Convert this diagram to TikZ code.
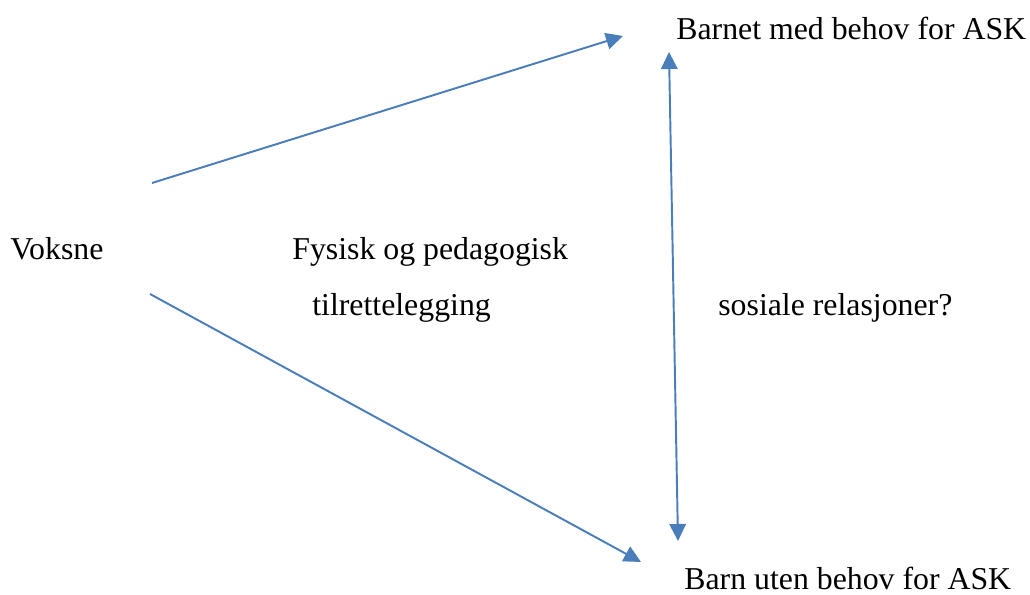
\documentclass[tikz,border=0pt]{standalone}
\usepackage{fontspec}
\setmainfont{Liberation Serif}
\usepackage{tikz}
\usetikzlibrary{arrows.meta}
\usepackage{xcolor}
\definecolor{askblue}{RGB}{74,126,187}

\begin{document}
\begin{tikzpicture}[>={Triangle[length=3.4mm,width=3.3mm]},font=\fontsize{18.1}{22}\selectfont,
  pil/.style={askblue,line width=1.1pt,->}]
\useasboundingbox (0,0) rectangle (20.6,11.9);
% tekstene
\node[anchor=base west,inner sep=0pt] (voksne) at (0.20,6.70) {Voksne};
\node[anchor=base west,inner sep=0pt] (fysisk) at (5.84,6.70) {Fysisk og pedagogisk};
\node[anchor=base west,inner sep=0pt] (tilrett) at (6.24,5.58) {tilrettelegging};
\node[anchor=base west,inner sep=0pt] (sosiale) at (14.36,5.58) {sosiale relasjoner?};
\node[anchor=base west,inner sep=0pt] (barnet) at (13.52,11.10) {Barnet med behov for ASK};
\node[anchor=base west,inner sep=0pt] (barn) at (13.68,0.10) {Barn uten behov for ASK};
% endepunkter for pilene
\coordinate (v1) at (3.04,8.24);
\coordinate (v2) at (3.00,6.02);
\coordinate (b1) at (12.46,11.18);
\coordinate (b2) at (12.82,0.66);
\coordinate (s1) at (13.38,10.86);
\coordinate (s2) at (13.56,1.08);
\draw[pil] (v1) -- (b1);
\draw[pil] (v2) -- (b2);
\draw[pil,<->] (s1) -- (s2);
\end{tikzpicture}
\end{document}
